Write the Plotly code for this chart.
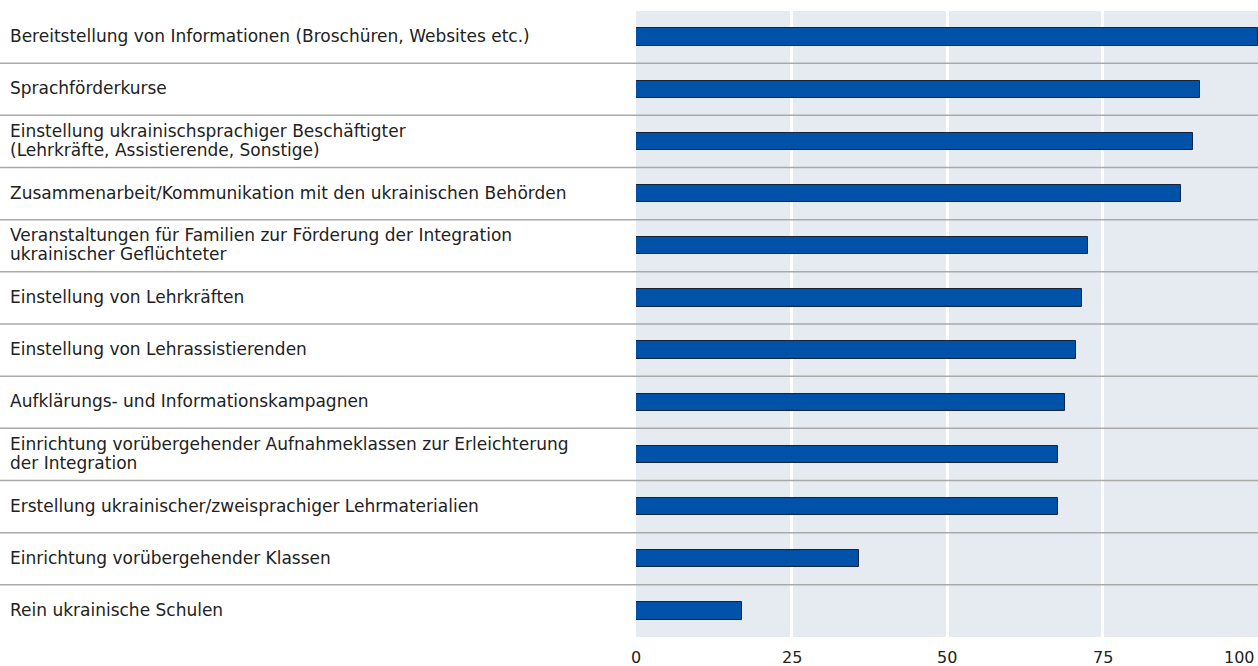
import plotly.graph_objects as go

categories = [
    "Bereitstellung von Informationen (Broschüren, Websites etc.)",
    "Sprachförderkurse",
    "Einstellung ukrainischsprachiger Beschäftigter<br>(Lehrkräfte, Assistierende, Sonstige)",
    "Zusammenarbeit/Kommunikation mit den ukrainischen Behörden",
    "Veranstaltungen für Familien zur Förderung der Integration<br>ukrainischer Geflüchteter",
    "Einstellung von Lehrkräften",
    "Einstellung von Lehrassistierenden",
    "Aufklärungs- und Informationskampagnen",
    "Einrichtung vorübergehender Aufnahmeklassen zur Erleichterung<br>der Integration",
    "Erstellung ukrainischer/zweisprachiger Lehrmaterialien",
    "Einrichtung vorübergehender Klassen",
    "Rein ukrainische Schulen",
]
values = [100, 90.6, 89.6, 87.7, 72.6, 71.7, 70.8, 68.9, 67.9, 67.9, 35.8, 17.0]
tick_values = [0, 25, 50, 75, 100]
tick_labels = ["0", "25", "50", "75", "100"]

W, H = 1258, 666
ML, MR, MT, MB = 636, 0, 11, 29
plot_w = W - ML - MR

idx = list(range(len(categories)))

fig = go.Figure()
fig.add_trace(go.Bar(
    x=values, y=idx, orientation="h",
    marker=dict(color="#0052a9", line=dict(color="#14243c", width=1)),
    width=0.33, hoverinfo="x",
))

label_font = dict(family="DejaVu Sans, sans-serif", size=17, color="#222222")
annotations = []
for i, c in enumerate(categories):
    lines = c.split("<br>")
    n = len(lines)
    for j, line in enumerate(lines):
        shift = (-(j - (n - 1) / 2)) * 19 + 1
        annotations.append(dict(
            x=-(ML - 8) / plot_w, xref="paper", y=i, yref="y",
            text=line, showarrow=False, xanchor="left", yanchor="middle", align="left",
            yshift=shift, font=label_font,
        ))

tick_font = dict(family="DejaVu Sans, sans-serif", size=16, color="#222222")
for k, (tv, tl) in enumerate(zip(tick_values, tick_labels)):
    last = k == len(tick_values) - 1
    annotations.append(dict(
        x=tv, xref="x", y=0, yref="paper", text=tl, showarrow=False,
        xanchor="right" if last else "center", yanchor="top",
        xshift=-1 if last else 0, yshift=-9, font=tick_font,
    ))

shapes = []
for i in range(len(categories) - 1):
    shapes.append(dict(
        type="line", xref="paper", yref="y",
        x0=-ML / plot_w, x1=1, y0=i + 0.5, y1=i + 0.5,
        line=dict(color="#a9a9a9", width=1.5), layer="above",
    ))

fig.update_layout(
    width=W, height=H,
    margin=dict(l=ML, r=MR, t=MT, b=MB, pad=0),
    paper_bgcolor="white", plot_bgcolor="#e6eaf1",
    showlegend=False, bargap=0,
    annotations=annotations, shapes=shapes,
    xaxis=dict(
        range=[0, 100], tickvals=tick_values, showticklabels=False,
        showgrid=True, gridcolor="white", gridwidth=2.5, zeroline=False,
        showline=False, fixedrange=True,
    ),
    yaxis=dict(
        range=[len(categories) - 0.5, -0.5], showticklabels=False,
        showgrid=False, zeroline=False, showline=False, fixedrange=True,
    ),
)

fig.write_html(
    "out.html",
    config={"displayModeBar": False},
    post_script="document.body.style.margin='0';document.body.style.overflow='hidden';",
)
